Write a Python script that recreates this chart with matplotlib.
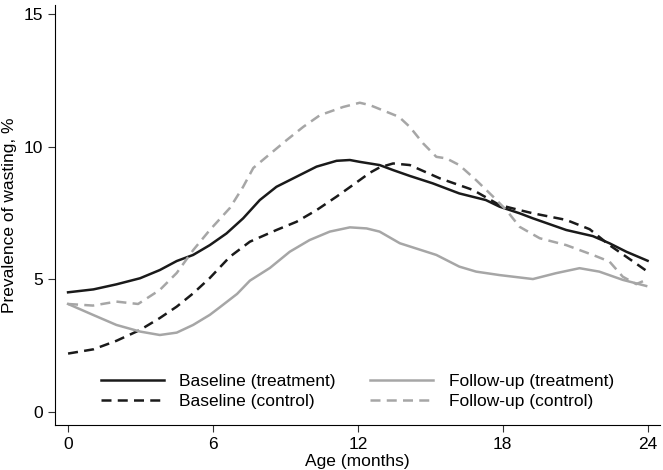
import matplotlib.pyplot as plt

plt.rcParams['font.family'] = ['Liberation Sans', 'DejaVu Sans']

# Baseline (treatment)
age_bt = [0, 1.05, 2.0, 2.98, 3.8, 4.5, 5.18, 5.87, 6.56, 7.25, 7.94, 8.63, 9.46, 10.29, 11.12, 11.67,
          12.08, 12.9, 13.46, 14.15, 15.1, 16.2, 17.3, 17.87, 18.7, 19.25, 20.63, 21.73, 22.42, 23.12, 24.0]
val_bt = [4.51, 4.62, 4.81, 5.04, 5.35, 5.69, 5.92, 6.29, 6.73, 7.3, 7.99, 8.49, 8.87, 9.25, 9.47, 9.5,
          9.43, 9.31, 9.12, 8.9, 8.62, 8.24, 7.99, 7.74, 7.49, 7.3, 6.86, 6.63, 6.36, 6.04, 5.7]

# Baseline (control)
age_bc = [0, 1.05, 2.0, 2.98, 3.8, 4.5, 5.18, 5.87, 6.7, 7.53, 8.63, 9.46, 10.29, 11.12, 11.8,
          12.5, 12.9, 13.46, 14.15, 15.39, 16.77, 17.87, 18.7, 19.25, 20.63, 21.6, 22.42, 23.12, 24.0]
val_bc = [2.2, 2.36, 2.68, 3.09, 3.54, 3.97, 4.47, 5.05, 5.85, 6.42, 6.86, 7.17, 7.61, 8.12, 8.56,
          9.02, 9.22, 9.37, 9.31, 8.81, 8.37, 7.8, 7.61, 7.49, 7.24, 6.89, 6.29, 5.85, 5.29]

# Follow-up (treatment)
age_ft = [0, 1.03, 2.0, 2.98, 3.8, 4.5, 5.18, 5.87, 6.29, 7.0, 7.53, 8.36, 9.18, 10.0, 10.84, 11.67,
          12.36, 12.9, 13.74, 15.25, 16.2, 16.9, 17.87, 19.25, 20.2, 21.18, 22.0, 22.97, 23.94]
val_ft = [4.07, 3.66, 3.28, 3.03, 2.9, 2.99, 3.28, 3.66, 3.95, 4.45, 4.95, 5.43, 6.04, 6.48, 6.8, 6.96,
          6.92, 6.8, 6.36, 5.92, 5.48, 5.29, 5.16, 5.01, 5.23, 5.42, 5.29, 4.98, 4.75]

# Follow-up (control)
age_fc = [0, 1.03, 2.0, 2.9, 3.8, 4.5, 5.18, 5.87, 6.7, 7.25, 7.67, 8.22, 9.05, 9.74, 10.43, 11.39,
          12.08, 12.5, 13.7, 14.15, 14.7, 15.25, 15.67, 16.2, 16.9, 17.6, 18.15, 18.7, 19.53, 20.63,
          21.73, 22.42, 22.97, 23.53, 23.94]
val_fc = [4.07, 4.01, 4.16, 4.07, 4.6, 5.24, 6.1, 6.86, 7.69, 8.49, 9.2, 9.62, 10.25, 10.75, 11.19, 11.5,
          11.66, 11.57, 11.13, 10.75, 10.13, 9.62, 9.56, 9.31, 8.74, 8.12, 7.61, 6.98, 6.55, 6.29,
          5.92, 5.67, 5.1, 4.82, 4.98]

xticks = [0, 6, 12, 18, 24]
yticks = [0, 5, 10, 15]

gray = '#a6a6a6'
fig = plt.figure(figsize=(6.63, 4.70), dpi=100)
ax = fig.add_axes([0.083, 0.096, 0.912, 0.893])

ax.plot(age_bt, val_bt, color='#1a1a1a', lw=1.8, label='Baseline (treatment)')
ax.plot(age_bc, val_bc, color='#1a1a1a', lw=1.8, ls=(0, (4, 2.5)), label='Baseline (control)')
ax.plot(age_ft, val_ft, color=gray, lw=1.8, label='Follow-up (treatment)')
ax.plot(age_fc, val_fc, color=gray, lw=1.8, ls=(0, (4, 2.5)), label='Follow-up (control)')

ax.set_xlim(-0.54, 24.5)
ax.set_ylim(-0.49, 15.34)
ax.set_xticks(xticks)
ax.set_yticks(yticks)
ax.tick_params(labelsize=12.5, length=5, color='#333333')
ax.spines['top'].set_visible(False)
ax.spines['right'].set_visible(False)
ax.set_xlabel('Age (months)', fontsize=12.5, labelpad=2)
ax.set_ylabel('Prevalence of wasting, %', fontsize=12.5, labelpad=5)

ax.legend(ncol=2, frameon=False, loc='lower center', bbox_to_anchor=(0.5, 0.0),
          fontsize=12.5, handlelength=3.6, columnspacing=2.0, handletextpad=0.9,
          labelspacing=0.3)

fig.savefig('out.png', dpi=100)
